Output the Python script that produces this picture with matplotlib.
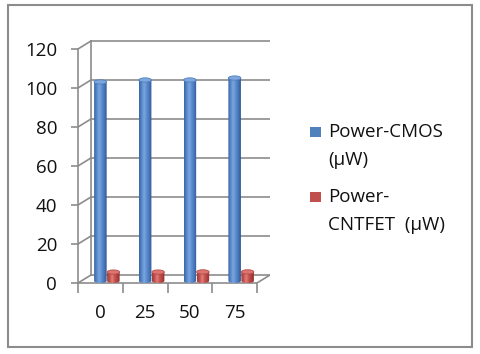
import matplotlib
matplotlib.use("Agg")
import matplotlib.pyplot as plt
import numpy as np
from matplotlib.colors import LinearSegmentedColormap
from matplotlib.patches import Ellipse, PathPatch, Rectangle
from matplotlib.path import Path

categories = ["0", "25", "50", "75"]
power_cmos = [102, 103, 103, 104]
power_cntfet = [4.5, 4.5, 4.6, 4.6]
series_labels = ["Power-CMOS\n(\u00b5W)", "Power-\nCNTFET  (\u00b5W)"]
y_ticks = [0, 20, 40, 60, 80, 100, 120]

GRID = "#8c8c8c"
FONT = "Open Sans"
FS = 13.5

# fake 3d depth of the walls (data units)
DX, DY = 0.29, 4.1
BAR_W = 0.28
CAP_H = 2.2

blue_cmap = LinearSegmentedColormap.from_list(
    "blue", ["#3a66a0", "#5787c9", "#7aa6e0", "#5e8ccf", "#4675b8", "#2f5890"])
red_cmap = LinearSegmentedColormap.from_list(
    "red", ["#9e3c39", "#c44f4b", "#df7f7b", "#c9524f", "#ad403d", "#8a3230"])


def cylinder(ax, x, value, cmap, cap_color, edge_color):
    x0, x1 = x - BAR_W / 2, x + BAR_W / 2
    base = CAP_H / 2
    top = value + base
    t = np.linspace(np.pi, 2 * np.pi, 40)
    arc = np.column_stack([x + BAR_W / 2 * np.cos(t), base + CAP_H / 2 * np.sin(t)])
    verts = np.vstack([[[x0, top]], arc, [[x1, top]], [[x0, top]]])
    codes = [Path.MOVETO] + [Path.LINETO] * (len(verts) - 2) + [Path.CLOSEPOLY]
    clip = PathPatch(Path(verts, codes), facecolor="none", edgecolor="none")
    ax.add_patch(clip)
    grad = np.linspace(0, 1, 64).reshape(1, -1)
    im = ax.imshow(grad, cmap=cmap, extent=(x0, x1, base - CAP_H / 2, top),
                   aspect="auto", origin="lower", zorder=3)
    im.set_clip_path(clip)
    ax.add_patch(Ellipse((x, top), BAR_W, CAP_H, facecolor=cap_color,
                         edgecolor=edge_color, lw=0.6, zorder=4))


fig = plt.figure(figsize=(4.8, 3.54), dpi=100)
fig.patches.append(Rectangle((8 / 480, 1 - 347 / 354), 464 / 480, 342 / 354,
                             transform=fig.transFigure, fill=False,
                             edgecolor="#8c8c8c", lw=1.5))

ax = fig.add_axes([78 / 480, 71 / 354, 192 / 480, 243 / 354])
ax.set_facecolor("none")
n = len(categories)
x = np.arange(n)

# back wall, side wall and floor
for v in y_ticks:
    ax.plot([-0.5 + DX, n - 0.5 + DX], [v + DY, v + DY], color=GRID, lw=1.2, zorder=1)
    ax.plot([-0.5, -0.5 + DX], [v, v + DY], color=GRID, lw=1.2, zorder=1)
ax.plot([-0.5 + DX, -0.5 + DX], [DY, y_ticks[-1] + DY], color=GRID, lw=1.2, zorder=1)
ax.plot([n - 0.5, n - 0.5 + DX], [0, DY], color=GRID, lw=1.2, zorder=1)

for i in range(n):
    cylinder(ax, x[i], power_cmos[i], blue_cmap, "#7ea7de", "#4f7fbf")
    cylinder(ax, x[i] + DX, power_cntfet[i], red_cmap, "#dc7470", "#b84a47")

ax.set_xlim(-0.5, n - 0.5 + DX)
ax.set_ylim(0, y_ticks[-1] + DY + 0.5)

for side in ["top", "right"]:
    ax.spines[side].set_visible(False)
ax.spines["left"].set_bounds(0, y_ticks[-1])
ax.spines["bottom"].set_bounds(-0.5, n - 0.5)
for side in ["left", "bottom"]:
    ax.spines[side].set_color(GRID)
    ax.spines[side].set_linewidth(1.2)

ax.set_yticks(y_ticks)
ax.set_yticklabels([str(v) for v in y_ticks], fontsize=FS, family=FONT, color="#111111")
ax.tick_params(axis="y", length=5, width=1.2, color=GRID, pad=10)
ax.set_xticks(np.arange(n + 1) - 0.5)
ax.set_xticklabels([])
ax.tick_params(axis="x", which="major", length=7, width=1.2, color=GRID)
ax.set_xticks(x, minor=True)
ax.set_xticklabels(categories, minor=True, fontsize=FS, family=FONT, color="#111111")
ax.tick_params(axis="x", which="minor", length=0, pad=15)

# legend
colors = ["#4f81bd", "#c0504d"]
entry_y = [132, 197]
for label, c, yy in zip(series_labels, colors, entry_y):
    fig.patches.append(Rectangle((310 / 480, 1 - (yy + 5) / 354), 11 / 480, 10 / 354,
                                 transform=fig.transFigure, facecolor=c, edgecolor="none"))
    for k, line in enumerate(label.split("\n")):
        fig.text(328 / 480, 1 - (yy + 28 * k) / 354, line, fontsize=FS, family=FONT,
                 va="center", ha="left", color="#111111")

fig.savefig("out.png", dpi=100)
